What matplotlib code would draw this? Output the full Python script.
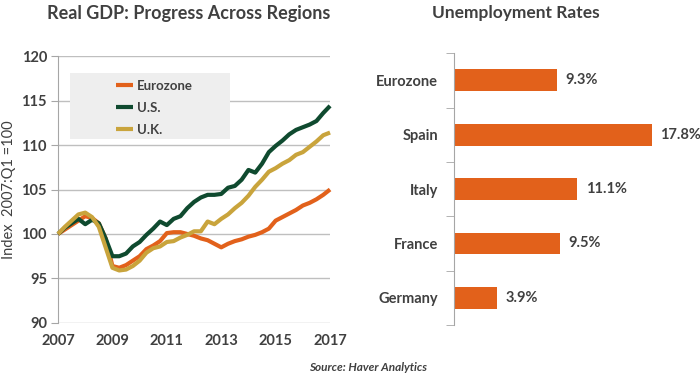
import matplotlib
matplotlib.use("Agg")
import matplotlib.pyplot as plt
from matplotlib.patches import Rectangle
import numpy as np

# quarterly index, 2007:Q1 = 100, through 2017:Q1
years = np.arange(41) / 4 + 2007
eurozone = [100.0, 100.5, 101.0, 101.5, 102.0, 101.8, 101.2, 99.5,
            96.4, 96.2, 96.5, 97.0, 97.5, 98.3, 98.7, 99.2,
            100.1, 100.2, 100.2, 100.0, 99.8, 99.5, 99.3, 98.9,
            98.5, 98.9, 99.2, 99.4, 99.7, 99.9, 100.2, 100.6,
            101.5, 101.9, 102.3, 102.7, 103.2, 103.5, 103.9, 104.4, 105.0]
us = [100.0, 100.7, 101.2, 101.7, 101.1, 101.6, 101.2, 99.5,
      97.5, 97.5, 97.8, 98.6, 99.1, 99.9, 100.6, 101.4,
      101.0, 101.7, 102.0, 102.9, 103.6, 104.1, 104.4, 104.4,
      104.5, 105.2, 105.4, 106.1, 107.2, 106.9, 107.9, 109.2,
      109.9, 110.5, 111.2, 111.7, 112.0, 112.3, 112.7, 113.6, 114.4]
uk = [100.0, 100.8, 101.5, 102.2, 102.4, 101.9, 100.8, 98.5,
      96.2, 95.9, 96.0, 96.4, 97.0, 97.9, 98.4, 98.6,
      99.1, 99.2, 99.6, 99.9, 100.3, 100.3, 101.4, 101.1,
      101.7, 102.2, 102.9, 103.5, 104.3, 105.3, 106.1, 107.0,
      107.4, 107.9, 108.3, 108.9, 109.2, 109.8, 110.4, 111.1, 111.4]

countries = ["Eurozone", "Spain", "Italy", "France", "Germany"]
unemployment = [9.3, 17.8, 11.1, 9.5, 3.9]

ORANGE = "#E2611B"
GREEN = "#0F4A2F"
GOLD = "#C9A43C"
TEXT = "#404040"

plt.rcParams["font.family"] = ["Lato", "DejaVu Sans"]
plt.rcParams["font.weight"] = "bold"

fig = plt.figure(figsize=(7, 3.84), dpi=100)

# ---- left: real GDP lines
ax = fig.add_axes([0.0829, 0.159, 0.3886, 0.695])
ax.add_patch(Rectangle((0.044, 0.69), 0.59, 0.246, transform=ax.transAxes,
                       facecolor="#eeeeee", edgecolor="none", zorder=1))
for vals, col, name, z in [(eurozone, ORANGE, "Eurozone", 3),
                           (us, GREEN, "U.S.", 4), (uk, GOLD, "U.K.", 5)]:
    ax.plot(years, vals, color=col, lw=3, label=name, zorder=z,
            clip_on=False, solid_capstyle="butt")

ax.set_xlim(2007, 2017)
ax.set_ylim(90, 120)
ax.set_xticks([2007, 2009, 2011, 2013, 2015, 2017])
ax.set_yticks(range(90, 121, 5))
ax.grid(axis="y", color="#bfbfbf", lw=1)
ax.set_axisbelow(True)
for s in ["top", "right", "bottom"]:
    ax.spines[s].set_visible(False)
ax.spines["left"].set_color("#a6a6a6")
ax.tick_params(axis="y", length=5, color="#a6a6a6", labelsize=10.5,
               labelcolor=TEXT, pad=3)
ax.tick_params(axis="x", length=0, labelsize=10.5, labelcolor=TEXT, pad=8)
ax.set_ylabel("Index  2007:Q1 =100", fontsize=10.5, color=TEXT, labelpad=4)

leg = ax.legend(loc="upper left", bbox_to_anchor=(0.17, 0.955), frameon=False,
                handlelength=1.3, fontsize=9.5, labelspacing=0.75,
                handletextpad=0.3)
for t in leg.get_texts():
    t.set_color(TEXT)
leg.set_zorder(6)

fig.text(0.269, 0.965, "Real GDP: Progress Across Regions", ha="center",
         va="center", fontsize=13, color=TEXT)

# ---- right: unemployment bars
bx = fig.add_axes([0.6486, 0.1536, 0.343, 0.708])
pos = np.arange(len(countries))
bars = bx.barh(pos, unemployment, height=0.4, color=ORANGE)
bx.bar_label(bars, labels=[f"{v}%" for v in unemployment], padding=6,
             fontsize=10.5, color=TEXT)
bx.set_ylim(len(countries) - 0.5, -0.5)
bx.set_xlim(0, 21.6)
bx.set_yticks(pos)
bx.set_yticklabels(countries)
bx.set_yticks(np.arange(-0.5, len(countries)), minor=True)
bx.tick_params(axis="y", which="major", length=0, pad=11.5, labelsize=10.5,
               labelcolor=TEXT)
bx.tick_params(axis="y", which="minor", length=6, color="#a6a6a6")
bx.set_xticks([])
for s in ["top", "right", "bottom"]:
    bx.spines[s].set_visible(False)
bx.spines["left"].set_color("#a6a6a6")

fig.text(0.737, 0.965, "Unemployment Rates", ha="center", va="center",
         fontsize=12.5, color=TEXT)

fig.text(0.441, 0.042, "Source: Haver Analytics", ha="left", va="center",
         fontsize=8.5, style="italic", color=TEXT)

fig.savefig("out.png", dpi=100)
